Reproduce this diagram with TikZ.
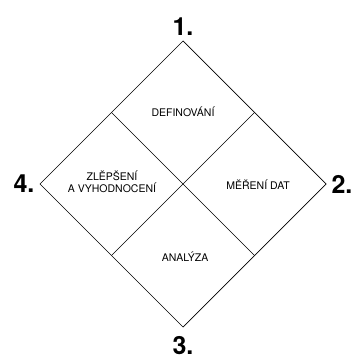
\documentclass[tikz,border=0pt]{standalone}
\usepackage{fontspec}
\setmainfont{TeX Gyre Heros}
\usetikzlibrary{calc}
\tikzset{
  faze/.style={font=\fontsize{10.5}{12.5}\selectfont, align=center},
  cislo/.style={font=\fontsize{25}{25}\selectfont\bfseries}
}
\begin{document}
\begin{tikzpicture}[x=1pt,y=-1pt]
            \useasboundingbox (0,0) rectangle (351,358);
            % Vrcholy
            \coordinate (T) at (183,41);
            \coordinate (R) at (326,184);
            \coordinate (B) at (183,327);
            \coordinate (L) at (40,184);

            % Kosoctverec
            \draw[black, line width=0.7pt] (T) -- (R) -- (B) -- (L) -- cycle;
            \draw[black, line width=0.7pt] ($(T)!0.5!(L)$) -- ($(R)!0.5!(B)$);
            \draw[black, line width=0.7pt] ($(T)!0.5!(R)$) -- ($(L)!0.5!(B)$);

            % Faze
            \node[faze] (def) at (183,112) {DEFINOVÁNÍ};
            \node[faze] (mer) at (258,185) {MĚŘENÍ DAT};
            \node[faze] (ana) at (185,257) {ANALÝZA};
            \node[faze] (zle) at (112,182) {ZLĚPŠENÍ\\A VYHODNOCENÍ};

            % Cisla
            \node[cislo] (c1) at (183,27) {1.};
            \node[cislo] (c2) at (342,184) {2.};
            \node[cislo] (c3) at (183,346) {3.};
            \node[cislo] (c4) at (24,184) {4.};
        \end{tikzpicture}
\end{document}
